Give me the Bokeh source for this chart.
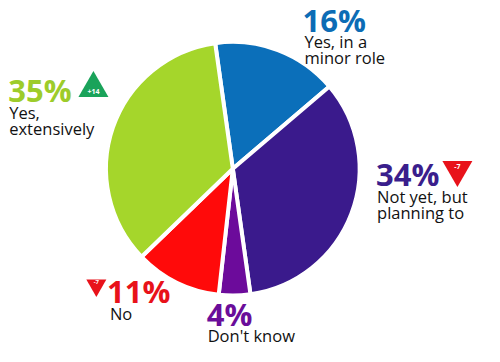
import numpy as np
from bokeh.plotting import figure
from bokeh.models import Range1d
from bokeh.core.properties import value
from bokeh.embed import file_html
from bokeh.resources import INLINE

# ---- data ----
categories = ["Yes, in a\nminor role", "Not yet, but\nplanning to", "Don't know", "No", "Yes,\nextensively"]
shares = [16, 34, 4, 11, 35]
changes = [None, -7, None, -7, 14]
colors = ["#0b6fba", "#3a1a8c", "#6c0b9b", "#ff0a0a", "#a5d62b"]
pct_colors = ["#0c6cb5", "#3a1e8c", "#6a0d9a", "#e8121a", "#9dcc2a"]

# ---- layout (reference pixel coords mapped onto the figure) ----
W, H = 484, 346
cx, cy, R = 240, 176, 131
start_offset = -8.0  # degrees clockwise from 12 o'clock

def Y(py):
    return 362 - py

p = figure(width=W, height=H, output_backend="svg", toolbar_location=None,
           x_range=Range1d(0, 500), y_range=Range1d(0, 362),
           min_border=0)
p.axis.visible = False
p.grid.visible = False
p.outline_line_color = None
p.background_fill_color = "white"

cum = np.concatenate([[0], np.cumsum(shares)]) / 100.0 * 360.0 + start_offset
starts = np.radians(90 - cum[:-1])
ends = np.radians(90 - cum[1:])
p.wedge(x=cx, y=Y(cy), radius=R, start_angle=starts, end_angle=ends,
        direction="clock", fill_color=colors, line_color="white", line_width=4)

# label anchors: (x, y-center of percent) per category
pct_pos = [(312, 20), (388, 182), (213, 328), (110, 304), (8, 94)]
lab_pos = [(314, 43), (389, 205), (214, 351), (113, 327), (9, 117)]
tri_pos = [None, (472, 177), None, (99, 298), (96, 92)]
font_b = value("Open Sans")

for i in range(len(shares)):
    px, py = pct_pos[i]
    p.text(x=[px], y=[Y(py)], text=[f"{shares[i]}%"], text_color=pct_colors[i],
           text_font=font_b, text_font_style="bold", text_font_size="31px",
           text_baseline="middle", text_align="left")
    lx, ly = lab_pos[i]
    for k, line in enumerate(categories[i].split("\n")):
        p.text(x=[lx], y=[Y(ly + 16.5 * k)], text=[line], text_color="#111111",
               text_font=value("Open Sans"), text_font_size="16.5px",
               text_font_style="normal",
               text_baseline="middle", text_align="left")
    if changes[i] is not None:
        tx, ty = tri_pos[i]
        up = changes[i] > 0
        p.scatter(x=[tx], y=[Y(ty)], marker="triangle" if up else "inverted_triangle",
                  size=30 if i != 3 else 20,
                  fill_color="#1aa35a" if up else "#e8121a", line_color=None)
        p.text(x=[tx], y=[Y(ty + (3 if up else -3))],
               text=[f"+{changes[i]}" if up else f"{changes[i]}"],
               text_color="white", text_font=font_b, text_font_style="bold",
               text_font_size="7px" if i != 3 else "6px",
               text_baseline="middle", text_align="center")

open("out.html", "w").write(file_html(p, INLINE))
